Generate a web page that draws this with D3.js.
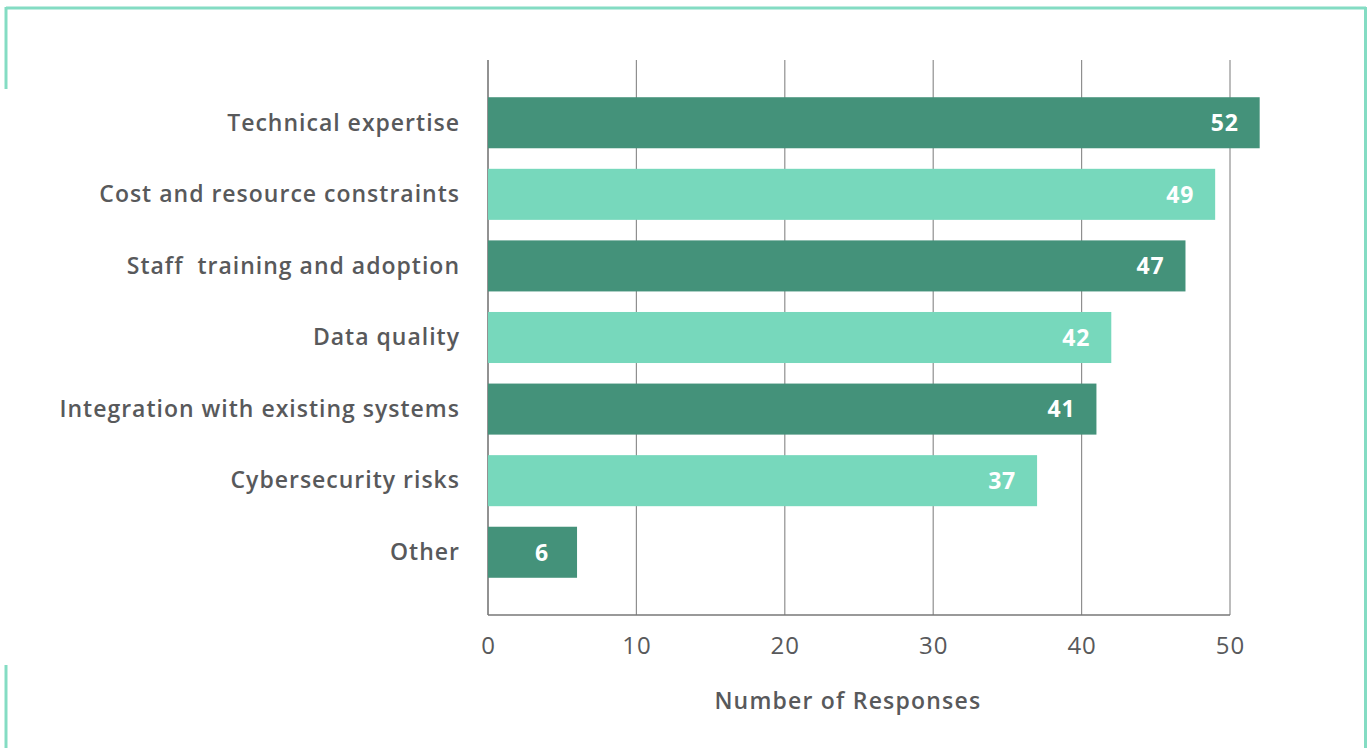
<!DOCTYPE html>
<html>
<head>
<meta charset="utf-8">
<script src="https://cdn.jsdelivr.net/npm/d3@7"></script>
<style>
  body { margin: 0; background: #fff; }
  svg { display: block; font-family: "Open Sans", "Lato", sans-serif; }
</style>
</head>
<body>
<svg width="1369" height="748"></svg>
<script>
// data
const categories = ["Technical expertise", "Cost and resource constraints", "Staff  training and adoption",
    "Data quality", "Integration with existing systems", "Cybersecurity risks", "Other"];
const responses = [52, 49, 47, 42, 41, 37, 6];
const xTicks = [0, 10, 20, 30, 40, 50];

const darkGreen = "#44927a";
const lightGreen = "#77d8bc";
const textColor = "#58595b";

const svg = d3.select("svg");

// frame around the chart
const frame = "#84dcc3";
svg.append("line").attr("x1", 6).attr("x2", 1366).attr("y1", 8).attr("y2", 8)
    .attr("stroke", frame).attr("stroke-width", 3);
svg.append("line").attr("x1", 6).attr("x2", 6).attr("y1", 7).attr("y2", 89)
    .attr("stroke", frame).attr("stroke-width", 3);
svg.append("line").attr("x1", 6).attr("x2", 6).attr("y1", 665).attr("y2", 748)
    .attr("stroke", frame).attr("stroke-width", 3);
svg.append("line").attr("x1", 1365.5).attr("x2", 1365.5).attr("y1", 7).attr("y2", 748)
    .attr("stroke", frame).attr("stroke-width", 3);

const plotLeft = 488, plotTop = 60, plotW = 742, plotH = 555;
const g = svg.append("g").attr("transform", `translate(${plotLeft}, ${plotTop})`);

const x = d3.scaleLinear().domain([0, 50]).range([0, plotW]);
const y = d3.scaleBand().domain(categories).range([0, plotH])
    .paddingInner(0.287).paddingOuter(0.52);

// vertical grid
g.selectAll("line.grid").data(xTicks).enter().append("line")
    .attr("class", "grid")
    .attr("x1", d => x(d)).attr("x2", d => x(d))
    .attr("y1", 0).attr("y2", plotH)
    .attr("stroke", d => d === 0 ? "#777" : "#8f8f8f")
    .attr("stroke-width", d => d === 0 ? 1.6 : 1.2);

// bottom line
g.append("line").attr("x1", 0).attr("x2", x(50)).attr("y1", plotH).attr("y2", plotH)
    .attr("stroke", "#777").attr("stroke-width", 1.4);

// x tick labels
const xAxis = d3.axisBottom(x).tickValues(xTicks).tickSize(0).tickPadding(22);
const ax = g.append("g").attr("transform", `translate(0, ${plotH})`).call(xAxis);
ax.select(".domain").remove();
ax.selectAll("text")
    .attr("fill", textColor)
    .style("font-size", "24px")
    .style("letter-spacing", "1px")
    .style("font-family", "'Open Sans', sans-serif");

// bars
g.selectAll("rect.bar").data(categories).enter().append("rect")
    .attr("class", "bar")
    .attr("x", 0)
    .attr("y", d => y(d))
    .attr("width", (d, i) => x(responses[i]))
    .attr("height", y.bandwidth())
    .attr("fill", (d, i) => i % 2 === 0 ? darkGreen : lightGreen);

// value labels
g.selectAll("text.val").data(categories).enter().append("text")
    .attr("class", "val")
    .attr("x", (d, i) => x(responses[i]) - 35)
    .attr("y", d => y(d) + y.bandwidth() / 2)
    .attr("dy", "0.36em")
    .attr("text-anchor", "middle")
    .attr("fill", "#fff")
    .style("font-size", "23px")
    .style("font-weight", "bold")
    .style("letter-spacing", "0.8px")
    .text((d, i) => responses[i]);

// category labels
g.selectAll("text.cat").data(categories).enter().append("text")
    .attr("class", "cat")
    .attr("x", -28)
    .attr("y", d => y(d) + y.bandwidth() / 2 - 0.5)
    .attr("dy", "0.36em")
    .attr("text-anchor", "end")
    .attr("fill", textColor)
    .style("font-size", "23px")
    .style("font-weight", "600")
    .style("letter-spacing", "1px")
    .style("white-space", "pre")
    .text(d => d);

// axis title
g.append("text")
    .attr("x", x(24.25))
    .attr("y", plotH + 94)
    .attr("text-anchor", "middle")
    .attr("fill", textColor)
    .style("font-size", "23px")
    .style("font-weight", "600")
    .style("letter-spacing", "1.2px")
    .text("Number of Responses");
</script>
</body>
</html>
